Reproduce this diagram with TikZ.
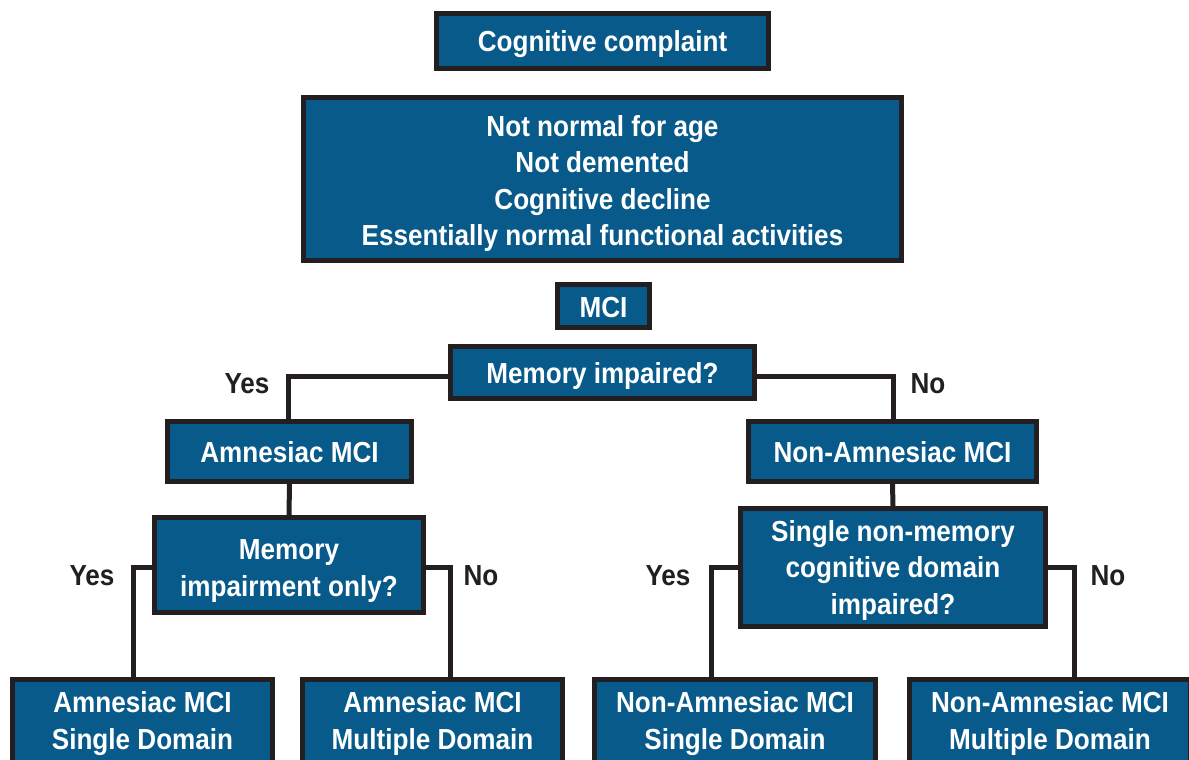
\documentclass[tikz,border=0pt]{standalone}
\usepackage{fontspec}
\newfontfamily\cnd[FakeStretch=0.9]{Liberation Sans}
\definecolor{boxblue}{HTML}{085A8A}
\definecolor{ink}{HTML}{231F20}
\tikzset{
  box/.style={draw=ink, line width=5pt, fill=boxblue, inner sep=0pt},
  txt/.style={text=white, inner sep=0pt, align=center, font=\cnd\bfseries\fontsize{29}{36.5}\selectfont},
  lbl/.style={text=ink, inner sep=0pt, anchor=base, font=\cnd\bfseries\fontsize{29}{36.5}\selectfont},
  conn/.style={draw=ink, line width=5pt, line cap=rect}
}
\begin{document}
\begin{tikzpicture}[x=1pt,y=-1pt]
\useasboundingbox (0,0) rectangle (1189,760);
\clip (0,0) rectangle (1189,760);
% boxes
\node[box, minimum width=332pt, minimum height=55pt] (cc) at (602.5,41) {};
\node[box, minimum width=598pt, minimum height=163pt] (big) at (602.5,179) {};
\node[box, minimum width=92pt, minimum height=43pt] (mci) at (603.5,306) {};
\node[box, minimum width=304pt, minimum height=52pt] (mem) at (602.5,372.5) {};
\node[box, minimum width=244pt, minimum height=60pt] (amn) at (289.5,451.5) {};
\node[box, minimum width=288pt, minimum height=60pt] (nam) at (892.5,451.5) {};
\node[box, minimum width=269pt, minimum height=95pt] (mo) at (289,565) {};
\node[box, minimum width=305pt, minimum height=118pt] (sn) at (893,567.5) {};
\node[box, minimum width=260pt, minimum height=85pt] (b1) at (142.5,722) {};
\node[box, minimum width=260pt, minimum height=85pt] (b2) at (432.5,722) {};
\node[box, minimum width=281pt, minimum height=85pt] (b3) at (735,722) {};
\node[box, minimum width=281pt, minimum height=85pt] (b4) at (1050,722) {};
% box texts
\node[txt] (cct) at ([yshift=-3pt]cc.center) {Cognitive complaint};
\node[txt] (bigt) at ([yshift=-4.5pt]big.center)
  {Not normal for age\\Not demented\\Cognitive decline\\Essentially normal functional activities};
\node[txt] (mcit) at ([yshift=-2pt]mci.center) {MCI};
\node[txt] (memt) at ([yshift=-3pt]mem.center) {Memory impaired?};
\node[txt] (amnt) at ([yshift=-1pt]amn.center) {Amnesiac MCI};
\node[txt] (namt) at ([yshift=-1pt]nam.center) {Non-Amnesiac MCI};
\node[txt] (mot) at ([yshift=-6pt]mo.center) {Memory\\impairment only?};
\node[txt] (snt) at ([yshift=-2.5pt]sn.center) {Single non-memory\\cognitive domain\\impaired?};
\node[txt] (b1t) at ([yshift=-1.5pt]b1.center) {Amnesiac MCI\\Single Domain};
\node[txt] (b2t) at ([yshift=-1.5pt]b2.center) {Amnesiac MCI\\Multiple Domain};
\node[txt] (b3t) at ([yshift=-1.5pt]b3.center) {Non-Amnesiac MCI\\Single Domain};
\node[txt] (b4t) at ([yshift=-1.5pt]b4.center) {Non-Amnesiac MCI\\Multiple Domain};
% turning points
\coordinate (t1) at (288,376);
\coordinate (t2) at (893,376);
\coordinate (t3) at (133,567);
\coordinate (t4) at (450,567);
\coordinate (t5) at (711,567);
\coordinate (t6) at (1074,567);
% connectors
\draw[conn] (mem.west |- t1) -- (t1) -- (t1 |- amn.north);
\draw[conn] (mem.east |- t2) -- (t2) -- (t2 |- nam.north);
\draw[conn] (amn.south) -- (mo.north);
\draw[conn] (nam.south) -- (sn.north);
\draw[conn] (mo.west |- t3) -- (t3) -- (t3 |- b1.north);
\draw[conn] (mo.east |- t4) -- (t4) -- (t4 |- b2.north);
\draw[conn] (sn.west |- t5) -- (t5) -- (t5 |- b3.north);
\draw[conn] (sn.east |- t6) -- (t6) -- (t6 |- b4.north);
% labels
\node[lbl] (y1) at (247,393) {Yes};
\node[lbl] (n1) at (928,393) {No};
\node[lbl] (y2) at (92,585) {Yes};
\node[lbl] (n2) at (481,585) {No};
\node[lbl] (y3) at (668,585) {Yes};
\node[lbl] (n3) at (1108,585) {No};
\end{tikzpicture}
\end{document}
